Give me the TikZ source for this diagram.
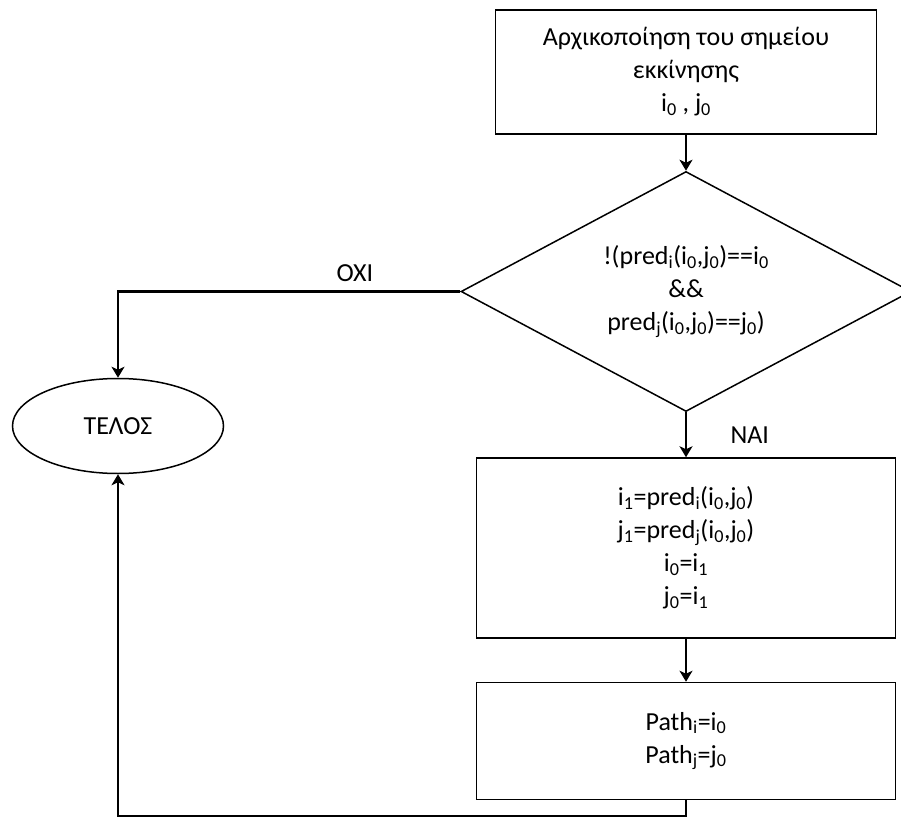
\documentclass[tikz,border=0pt]{standalone}
\usepackage{fontspec}
\setmainfont{Carlito}
\usetikzlibrary{shapes.geometric,arrows.meta,positioning}
\newcommand\sbs[1]{\textsubscript{#1}}

\begin{document}
\begin{tikzpicture}[x=1pt,y=-1pt,
  every node/.style={font=\fontsize{26}{33}\selectfont,align=center},
  stepbox/.style={draw,line width=1.5pt,inner sep=0pt,minimum width=419pt},
  flow/.style={line width=2.6pt,-{Stealth[length=11pt,width=13pt,inset=3pt]}}]
\useasboundingbox (0,0) rectangle (901,821);
% main column
\node[stepbox,minimum width=381pt,minimum height=124pt] (init) at (686,72)
  {Αρχικοποίηση του σημείου\\εκκίνησης\\i\sbs{0} , j\sbs{0}};
\node[draw,diamond,line width=1.5pt,inner sep=0pt,aspect=2,
      minimum width=450pt,minimum height=240pt,below=36pt of init] (test)
  {!(pred\sbs{i}(i\sbs{0},j\sbs{0})==i\sbs{0}\\\&\&\\ pred\sbs{j}(i\sbs{0},j\sbs{0})==j\sbs{0})};
\node[stepbox,minimum height=180pt,below=45pt of test] (update)
  {i\sbs{1}=pred\sbs{i}(i\sbs{0},j\sbs{0})\\j\sbs{1}=pred\sbs{j}(i\sbs{0},j\sbs{0})\\i\sbs{0}=i\sbs{1}\\j\sbs{0}=i\sbs{1}};
\node[stepbox,minimum height=117pt,below=43pt of update] (store)
  {Path\sbs{i}=i\sbs{0}\\Path\sbs{j}=j\sbs{0}};
% end
\node[draw,ellipse,line width=1.5pt,minimum width=211pt,minimum height=95pt] (end) at (118,426) {ΤΕΛΟΣ};
\coordinate (back) at (118,816);

\draw[flow] (init) -- (test);
\draw[flow] (test) -- node[right=40pt] {ΝΑΙ} (update);
\draw[flow] (update) -- (store);
\draw[flow] (test.west) -| node[pos=0.154,above=5pt] {ΟΧΙ} (end.north);
\draw[flow] (store) |- (back) -- (end);
\end{tikzpicture}
\end{document}
